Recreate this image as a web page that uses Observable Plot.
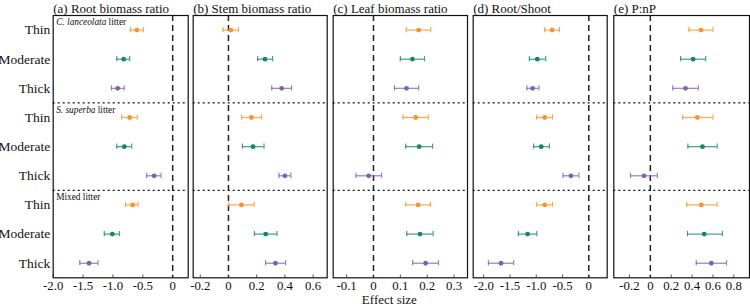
<!DOCTYPE html>
<html>
<head>
<meta charset="utf-8">
<script src="https://cdn.jsdelivr.net/npm/d3@7"></script>
<script src="https://cdn.jsdelivr.net/npm/@observablehq/plot@0.6"></script>
<style>
  html, body { margin: 0; padding: 0; background: #fff; }
  #chart { position: relative; width: 750px; height: 308px; }
  #chart svg { position: absolute; left: 0; top: 0; }
  #chart svg, #chart svg text { font-family: "Liberation Serif", "Times New Roman", serif !important; }
  #chart svg g[aria-label^="x-axis"] text { font-size: 12.8px; fill: #111; }
</style>
</head>
<body>
<div id="chart"></div>
<script>
// Litter groups and thinning intensities (rows top to bottom)
const litterSpecies = ["C. lanceolata", "S. superba", null];
const litterLabels = ["C. lanceolata litter", "S. superba litter", "Mixed litter"];
const thickness = ["Thin", "Moderate", "Thick"];
const thicknessColors = ["#fa922a", "#148a5c", "#7f5fb5"];

// Effect sizes with 95% CI, nine rows per panel
const rootMean = [-0.60, -0.82, -0.92, -0.72, -0.81, -0.31, -0.67, -1.01, -1.40];
const rootLo   = [-0.71, -0.935, -1.025, -0.855, -0.935, -0.435, -0.79, -1.145, -1.555];
const rootHi   = [-0.49, -0.72, -0.81, -0.595, -0.685, -0.195, -0.58, -0.89, -1.25];

const stemMean = [0.017, 0.259, 0.377, 0.163, 0.174, 0.400, 0.092, 0.264, 0.333];
const stemLo   = [-0.038, 0.207, 0.307, 0.094, 0.099, 0.358, 0.003, 0.184, 0.263];
const stemHi   = [0.071, 0.313, 0.447, 0.234, 0.252, 0.442, 0.181, 0.344, 0.405];

const leafMean = [0.168, 0.145, 0.123, 0.157, 0.170, -0.018, 0.166, 0.173, 0.194];
const leafLo   = [0.122, 0.100, 0.078, 0.110, 0.120, -0.065, 0.120, 0.124, 0.146];
const leafHi   = [0.213, 0.190, 0.168, 0.204, 0.220, 0.030, 0.212, 0.222, 0.242];

const rsMean = [-0.70, -0.98, -1.07, -0.84, -0.905, -0.34, -0.84, -1.165, -1.67];
const rsLo   = [-0.84, -1.13, -1.18, -0.99, -1.05, -0.49, -0.99, -1.34, -1.91];
const rsHi   = [-0.56, -0.82, -0.95, -0.69, -0.75, -0.19, -0.69, -0.99, -1.43];

const pnpMean = [0.485, 0.41, 0.337, 0.45, 0.50, -0.06, 0.488, 0.516, 0.584];
const pnpLo   = [0.37, 0.29, 0.215, 0.31, 0.36, -0.19, 0.35, 0.356, 0.44];
const pnpHi   = [0.60, 0.53, 0.46, 0.60, 0.64, 0.067, 0.64, 0.69, 0.73];

// Panel titles and axis tick values
const titles = ["(a) Root biomass ratio", "(b) Stem biomass ratio", "(c) Leaf biomass ratio", "(d) Root/Shoot", "(e) P:nP"];
const ticksA = [-2, -1.5, -1, -0.5, 0];
const ticksB = [-0.2, 0, 0.2, 0.4, 0.6];
const ticksC = [-0.1, 0, 0.1, 0.2, 0.3];
const ticksD = [-2, -1.5, -1, -0.5, 0];
const ticksE = [-0.2, 0, 0.2, 0.4, 0.6, 0.8];

const W = 750, H = 308;
const serif = '"Liberation Serif", "Times New Roman", serif';

const panels = [
  {title: titles[0], mean: rootMean, lo: rootLo, hi: rootHi, ticks: ticksA, domain: [-2.0, 0.26], left: 52.7, right: 187.7},
  {title: titles[1], mean: stemMean, lo: stemLo, hi: stemHi, ticks: ticksB, domain: [-0.25, 0.70], left: 192.7, right: 326.7},
  {title: titles[2], mean: leafMean, lo: leafLo, hi: leafHi, ticks: ticksC, domain: [-0.15, 0.35], left: 332.7, right: 467},
  {title: titles[3], mean: rsMean, lo: rsLo, hi: rsHi, ticks: ticksD, domain: [-2.2, 0.35], left: 472.7, right: 606.7},
  {title: titles[4], mean: pnpMean, lo: pnpLo, hi: pnpHi, ticks: ticksE, domain: [-0.35, 0.95], left: 613.3, right: 749}
];

const rowIndex = d3.range(litterLabels.length * thickness.length);
const groups = litterLabels.map((label, g) => ({label, start: g * thickness.length}));
const separators = groups.slice(1).map(g => g.start - 0.5);
const capHalf = 0.09;
const fmt = d => d === 0 ? "0" : d.toFixed(1);

const chart = document.getElementById("chart");

panels.forEach((p, k) => {
  const rows = rowIndex.map(i => ({
    i,
    thick: thickness[i % 3],
    color: thicknessColors[i % 3],
    mean: p.mean[i], lo: p.lo[i], hi: p.hi[i]
  }));

  const marks = [
    Plot.ruleY(separators, {stroke: "#111", strokeWidth: 1.2, strokeDasharray: "2,3"}),
    Plot.ruleX([0], {stroke: "#222", strokeWidth: 1.5, strokeDasharray: "6,4"}),
    Plot.ruleX(p.ticks, {y1: 8.5, y2: 8.4, stroke: "#333", strokeWidth: 0.8}),
    Plot.ruleY(rows, {x1: "lo", x2: "hi", y: "i", stroke: "color", strokeWidth: 1.3, strokeOpacity: 0.75}),
    Plot.ruleX(rows, {x: "lo", y1: d => d.i - capHalf, y2: d => d.i + capHalf, stroke: "color", strokeWidth: 1.2, strokeOpacity: 0.8}),
    Plot.ruleX(rows, {x: "hi", y1: d => d.i - capHalf, y2: d => d.i + capHalf, stroke: "color", strokeWidth: 1.2, strokeOpacity: 0.8}),
    Plot.dot(rows, {x: "mean", y: "i", r: 2.4, fill: "color", stroke: "none"}),
    Plot.frame({stroke: "#111", strokeWidth: 1.2}),
    Plot.text([p.title], {frameAnchor: "top-left", lineAnchor: "bottom", dy: -3, fontSize: 13, fontFamily: serif, fill: "#111"})
  ];

  if (k === 0) {
    marks.push(
      Plot.text(rows, {frameAnchor: "left", y: "i", text: "thick", textAnchor: "end", dx: -3, fontSize: 13.5, fontFamily: serif, fill: "#111"}),
      Plot.text(groups, {frameAnchor: "left", y: d => d.start - 0.5, text: "label", textAnchor: "start", lineAnchor: "middle", dx: 3, dy: 7, fontSize: 9.3, fontFamily: serif, fill: "#111"})
    );
  }
  if (k === 2) {
    marks.push(Plot.text(["Effect size"], {frameAnchor: "bottom", lineAnchor: "middle", dy: 22.5, dx: -11, fontSize: 13, fontFamily: serif, fill: "#111"}));
  }

  const svg = Plot.plot({
    width: W,
    height: H,
    marginLeft: p.left,
    marginRight: W - p.right,
    marginTop: 15,
    marginBottom: 30.7,
    style: {background: "transparent", fontFamily: serif, fontSize: "12.8px", color: "#111", overflow: "visible"},
    x: {domain: p.domain, ticks: p.ticks, tickFormat: fmt, tickSize: 0, tickPadding: 3, label: null},
    y: {domain: [-0.5, 8.5], reverse: true, axis: null},
    marks
  });

  // italicise the species names in the litter group labels
  d3.select(svg).selectAll("text").each(function () {
    const t = this.textContent;
    const g = litterLabels.indexOf(t);
    if (g < 0 || !litterSpecies[g]) return;
    const sp = litterSpecies[g];
    const sel = d3.select(this);
    sel.text(null);
    sel.append("tspan").attr("font-style", "italic").text(sp);
    sel.append("tspan").text(t.slice(sp.length));
  });

  chart.appendChild(svg);
});
</script>
</body>
</html>
